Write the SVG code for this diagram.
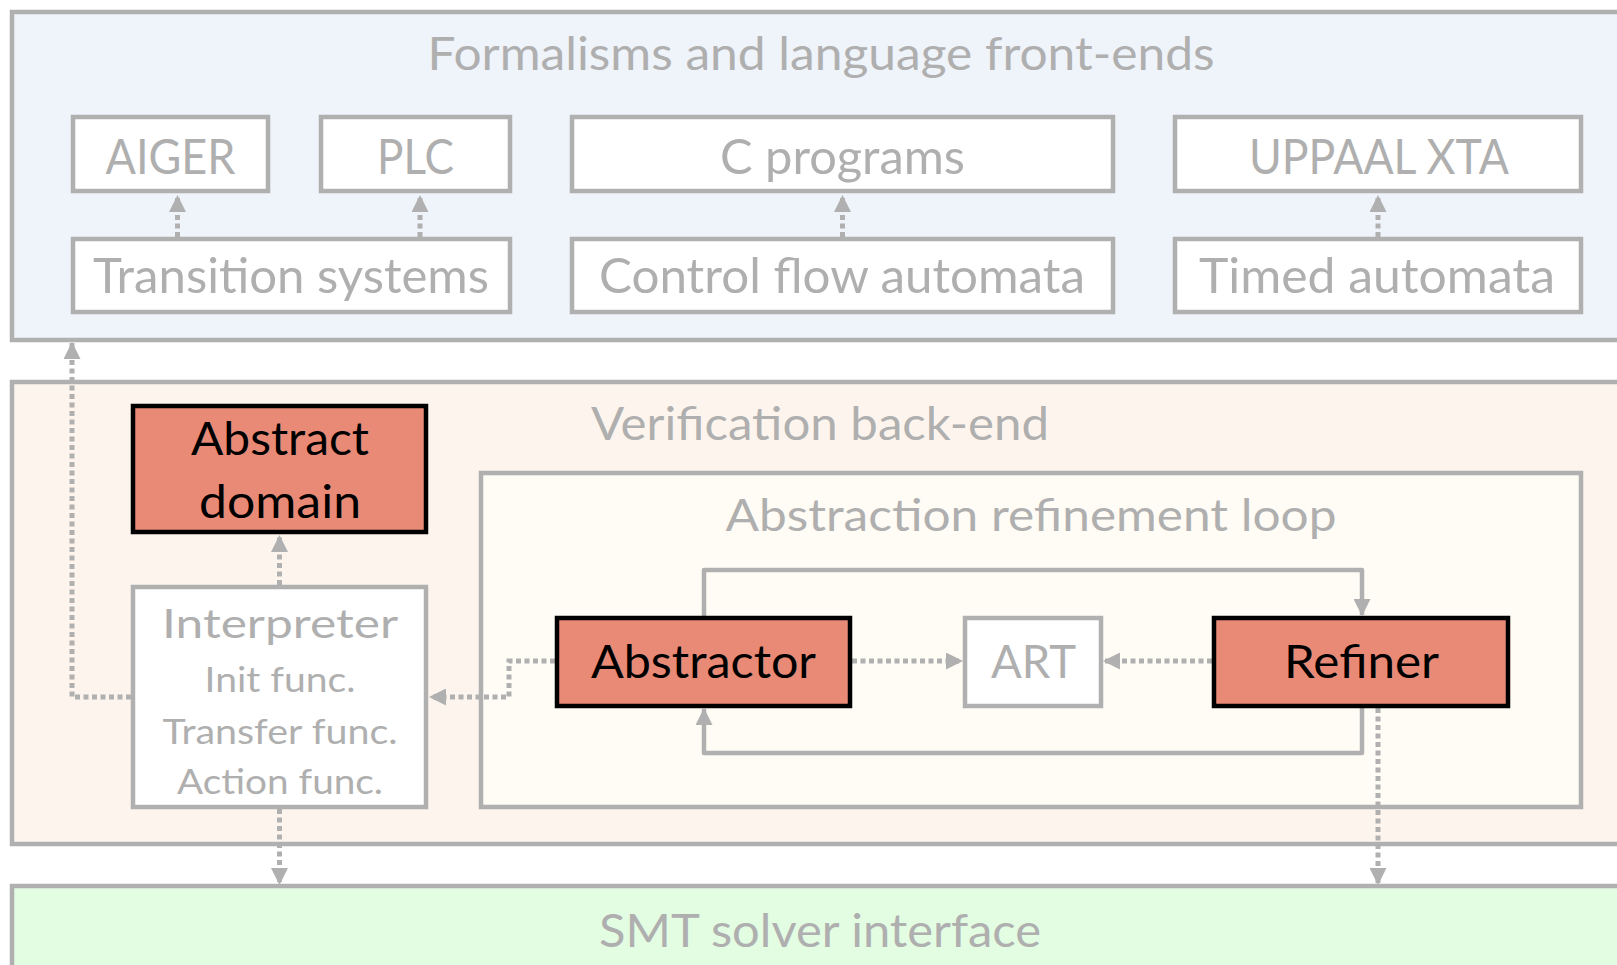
<svg xmlns="http://www.w3.org/2000/svg" width="1617" height="965" viewBox="0 0 1617 965">
<style>
.panel{stroke:#b0b0b0;stroke-width:4.5}
.gbox{fill:#ffffff;stroke:#b0b0b0;stroke-width:4.5}
.sbox{fill:#e98a76;stroke:#000000;stroke-width:4.5}
.gt{font-family:Lato,"Liberation Sans",sans-serif;fill:#afafaf;text-anchor:middle}
.bt{font-family:Lato,"Liberation Sans",sans-serif;fill:#000000;text-anchor:middle}
.dot{fill:none;stroke:#b0b0b0;stroke-width:5;stroke-dasharray:5 3.5}
.solid{fill:none;stroke:#b0b0b0;stroke-width:4.5;stroke-linejoin:round}
</style>
<defs>
<marker id="ah" markerUnits="userSpaceOnUse" markerWidth="17" markerHeight="17" refX="16" refY="8.5" orient="auto">
<path d="M0,0 L17,8.5 L0,17 z" fill="#b0b0b0"/>
</marker>
</defs>
<rect width="1617" height="965" fill="#ffffff"/>
<g id="panel-frontends">
<rect class="panel" x="12" y="12" width="1700" height="328" fill="#eff3fa"/>
<text class="gt" x="821" y="70" font-size="46" textLength="787" lengthAdjust="spacingAndGlyphs">Formalisms and language front-ends</text>
</g>
<g id="panel-backend">
<rect class="panel" x="12" y="382" width="1700" height="462" fill="#fdf5ed"/>
<text class="gt" x="820" y="440" font-size="46" textLength="458" lengthAdjust="spacingAndGlyphs">Verification back-end</text>
</g>
<g id="panel-smt">
<rect class="panel" x="12" y="886" width="1700" height="200" fill="#e3fde3"/>
<text class="gt" x="820" y="947" font-size="47" textLength="442" lengthAdjust="spacingAndGlyphs">SMT solver interface</text>
</g>
<g id="loop">
<rect class="panel" x="481" y="473" width="1100" height="334" fill="#fffcf5"/>
<text class="gt" x="1031" y="531" font-size="45" textLength="611" lengthAdjust="spacingAndGlyphs">Abstraction refinement loop</text>
</g>
<g id="connectors">
<path class="dot" d="M177.5,237 V196" marker-end="url(#ah)"/>
<path class="dot" d="M420,237 V196" marker-end="url(#ah)"/>
<path class="dot" d="M842.5,237 V196" marker-end="url(#ah)"/>
<path class="dot" d="M1378,237 V196" marker-end="url(#ah)"/>
<path class="dot" d="M131,697 H72 V343" marker-end="url(#ah)"/>
<path class="dot" d="M279.5,585 V536" marker-end="url(#ah)"/>
<path class="dot" d="M279.5,809 V884" marker-end="url(#ah)"/>
<path class="dot" d="M1378,708 V884" marker-end="url(#ah)"/>
<path class="dot" d="M555,661 H509 V697 H430" marker-end="url(#ah)"/>
<path class="dot" d="M852,661 H962" marker-end="url(#ah)"/>
<path class="dot" d="M1212,661 H1104" marker-end="url(#ah)"/>
<path class="solid" d="M704,616 V570 H1362 V615" marker-end="url(#ah)"/>
<path class="solid" d="M1362,708 V753 H704 V709" marker-end="url(#ah)"/>
</g>
<g id="aiger">
<rect class="gbox" x="73" y="117" width="195" height="74"/>
<text class="gt" x="170.5" y="174" font-size="48" textLength="130" lengthAdjust="spacingAndGlyphs">AIGER</text>
</g>
<g id="plc">
<rect class="gbox" x="321" y="117" width="189" height="74"/>
<text class="gt" x="415.5" y="174" font-size="48" textLength="77" lengthAdjust="spacingAndGlyphs">PLC</text>
</g>
<g id="cprograms">
<rect class="gbox" x="572" y="117" width="541" height="74"/>
<text class="gt" x="842.5" y="174" font-size="48" textLength="245" lengthAdjust="spacingAndGlyphs">C programs</text>
</g>
<g id="uppaal">
<rect class="gbox" x="1175" y="117" width="406" height="74"/>
<text class="gt" x="1379" y="174" font-size="48" textLength="260" lengthAdjust="spacingAndGlyphs">UPPAAL XTA</text>
</g>
<g id="transition-systems">
<rect class="gbox" x="73" y="239" width="437" height="73"/>
<text class="gt" x="291" y="293" font-size="48" textLength="396" lengthAdjust="spacingAndGlyphs">Transition systems</text>
</g>
<g id="cfa">
<rect class="gbox" x="572" y="239" width="541" height="73"/>
<text class="gt" x="842" y="293" font-size="48" textLength="486" lengthAdjust="spacingAndGlyphs">Control flow automata</text>
</g>
<g id="timed-automata">
<rect class="gbox" x="1175" y="239" width="406" height="73"/>
<text class="gt" x="1377" y="293" font-size="48" textLength="356" lengthAdjust="spacingAndGlyphs">Timed automata</text>
</g>
<g id="abstract-domain">
<rect class="sbox" x="133" y="406" width="293" height="126"/>
<text class="bt" x="280" y="455" font-size="46" textLength="178" lengthAdjust="spacingAndGlyphs">Abstract</text>
<text class="bt" x="280" y="518" font-size="46" textLength="162" lengthAdjust="spacingAndGlyphs">domain</text>
</g>
<g id="interpreter">
<rect class="gbox" x="133" y="587" width="293" height="220"/>
<text class="gt" x="280" y="638" font-size="41" textLength="236" lengthAdjust="spacingAndGlyphs">Interpreter</text>
<text class="gt" x="280" y="692" font-size="35" textLength="151" lengthAdjust="spacingAndGlyphs">Init func.</text>
<text class="gt" x="280" y="744" font-size="35" textLength="235" lengthAdjust="spacingAndGlyphs">Transfer func.</text>
<text class="gt" x="280" y="794" font-size="35" textLength="206" lengthAdjust="spacingAndGlyphs">Action func.</text>
</g>
<g id="abstractor">
<rect class="sbox" x="557" y="618" width="293" height="88"/>
<text class="bt" x="703.5" y="678" font-size="46" textLength="225" lengthAdjust="spacingAndGlyphs">Abstractor</text>
</g>
<g id="art">
<rect class="gbox" x="965" y="618" width="136" height="88"/>
<text class="gt" x="1033.5" y="678" font-size="46" textLength="85" lengthAdjust="spacingAndGlyphs">ART</text>
</g>
<g id="refiner">
<rect class="sbox" x="1214" y="618" width="294" height="88"/>
<text class="bt" x="1361.5" y="678" font-size="46" textLength="155" lengthAdjust="spacingAndGlyphs">Refiner</text>
</g>
</svg>
